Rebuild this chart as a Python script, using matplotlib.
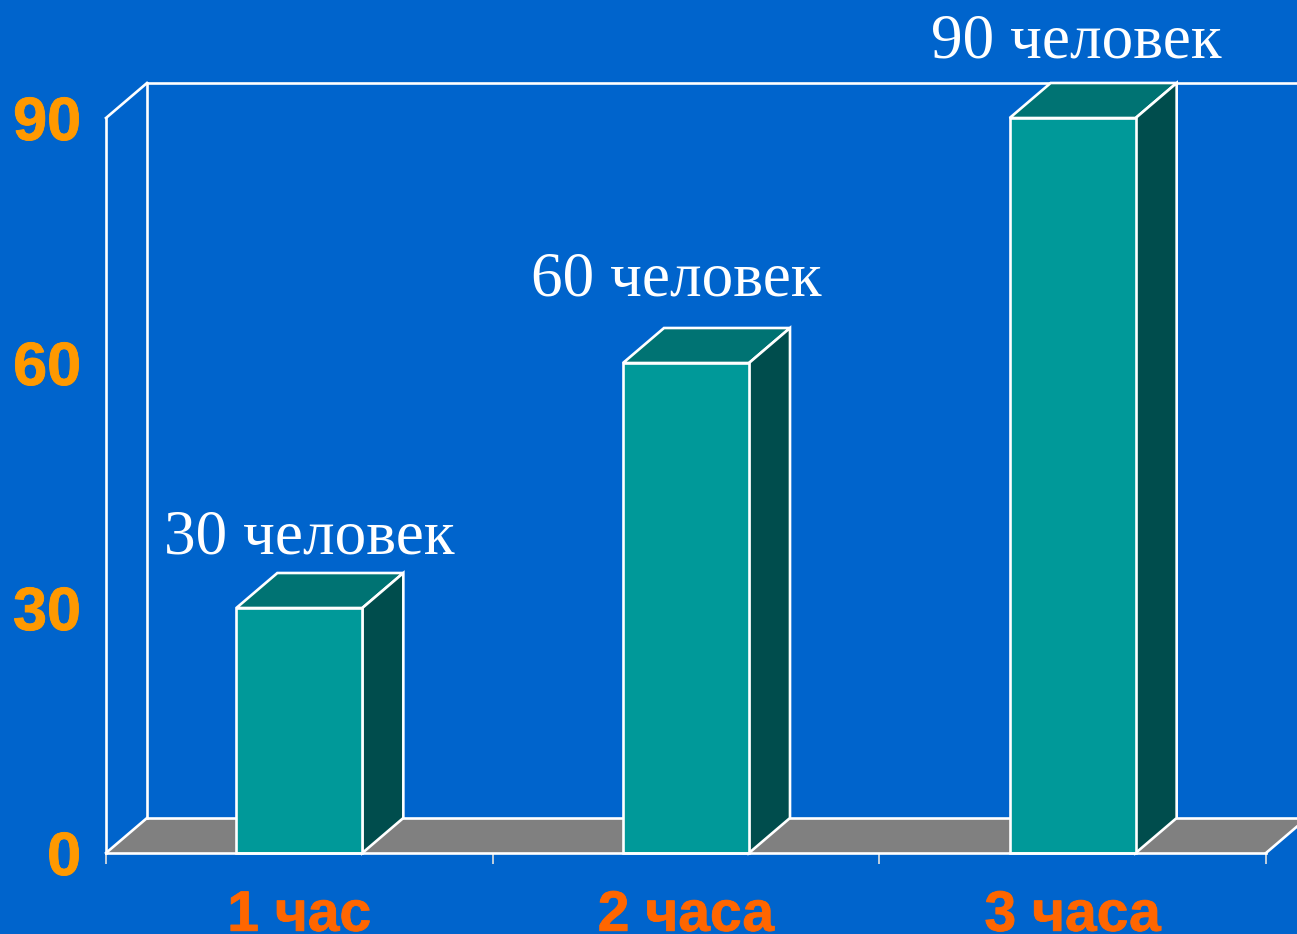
"""
3D-style bar chart: people per hour.
"""

import matplotlib
matplotlib.use("Agg")
import matplotlib.pyplot as plt
import matplotlib.patheffects as pe
from matplotlib.patches import Polygon

categories = ["1 час", "2 часа", "3 часа"]
values = [30, 60, 90]
bar_labels = ["30 человек", "60 человек", "90 человек"]
y_ticks = [0, 30, 60, 90]

W, H = 1297, 934
BG = "#0064CC"
WHITE = "#FFFFFF"
LW = 1.9

fig = plt.figure(figsize=(W / 100, H / 100), dpi=100, facecolor=BG)
ax = fig.add_axes([106 / W, (H - 853) / H, 1160 / W, 735 / H], facecolor="none")
ax.set_xlim(0, 3)
ax.set_ylim(0, 90)
for s in ax.spines.values():
    s.set_visible(False)

# depth of the fake 3D, in data units
dx = 41 / (1160 / 3)
dy = 35 * 90 / 735
bar_w = 126 / (1160 / 3)
xs = [i + 0.5 for i in range(len(categories))]

# floor and back walls
ax.add_patch(Polygon([(0, 0), (3, 0), (3 + dx, dy), (dx, dy)], closed=True,
                     facecolor="#808080", edgecolor="none", clip_on=False, zorder=1))
ax.plot([dx, 3 + dx], [dy, dy], color=WHITE, lw=LW, clip_on=False, zorder=2)
ax.plot([0, dx], [0, dy], color=WHITE, lw=LW, clip_on=False, zorder=2)
ax.plot([3, 3 + dx], [0, dy], color=WHITE, lw=LW, clip_on=False, zorder=2)
ax.plot([dx, dx], [dy, 90 + dy], color=WHITE, lw=LW, clip_on=False, zorder=2)
ax.plot([dx, 3 + dx], [90 + dy, 90 + dy], color=WHITE, lw=LW, clip_on=False, zorder=2)
ax.plot([0, dx], [90, 90 + dy], color=WHITE, lw=LW, clip_on=False, zorder=2)
ax.plot([0, 0], [0, 90], color=WHITE, lw=LW, clip_on=False, zorder=2)
ax.plot([0, 3], [0, 0], color=WHITE, lw=LW, clip_on=False, zorder=6)

# bars
for x, v in zip(xs, values):
    left, right = x - bar_w / 2, x + bar_w / 2
    ax.add_patch(Polygon([(left, v), (right, v), (right + dx, v + dy), (left + dx, v + dy)],
                         closed=True, facecolor="#007373", edgecolor=WHITE, lw=LW,
                         clip_on=False, zorder=3))
    ax.add_patch(Polygon([(right, 0), (right + dx, dy), (right + dx, v + dy), (right, v)],
                         closed=True, facecolor="#004D4D", edgecolor=WHITE, lw=LW,
                         clip_on=False, zorder=3))
ax.bar(xs, values, width=bar_w, color="#009999", edgecolor=WHITE, linewidth=LW,
       clip_on=False, zorder=4)

# value labels, hand placed like the original slide
offsets = [(10, 54), (-10, 67), (4, 60)]
for x, v, lab, off in zip(xs, values, bar_labels, offsets):
    ax.annotate(lab, (x, v), xytext=off, textcoords="offset pixels", ha="center",
                va="baseline", color=WHITE, family="Liberation Serif", fontsize=45.5,
                annotation_clip=False, zorder=7)

# axes
ax.set_yticks(y_ticks)
ax.set_yticklabels([str(t) for t in y_ticks], family="Liberation Sans", fontweight="bold",
                   fontsize=44, color="#FF9900",
                   path_effects=[pe.withStroke(linewidth=0.6, foreground="#FF9900")])
ax.tick_params(axis="y", length=0, pad=18)
ax.set_xticks([0, 1, 2, 3])
ax.set_xticklabels([])
ax.tick_params(axis="x", which="major", length=8, width=1.2, color="#E0E0E0")
ax.set_xticks(xs, minor=True)
ax.set_xticklabels(categories, minor=True, family="Liberation Sans", fontweight="bold",
                   fontsize=41, color="#FF6600", va="baseline",
                   path_effects=[pe.withStroke(linewidth=0.6, foreground="#FF6600")])
ax.tick_params(axis="x", which="minor", length=0, pad=56)

fig.savefig("out.png", dpi=100, facecolor=BG)
plt.close(fig)
